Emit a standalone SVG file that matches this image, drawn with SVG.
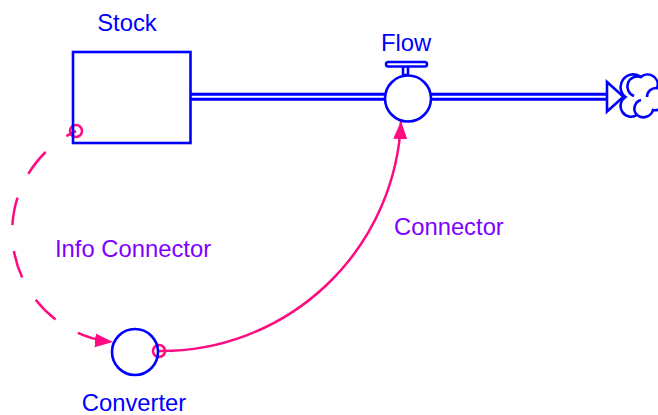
<svg xmlns="http://www.w3.org/2000/svg" width="658" height="415" viewBox="0 0 658 415">
  <style>
    .blue { fill: none; stroke: #0000ff; stroke-width: 2.6; }
    .blueW { fill: #ffffff; stroke: #0000ff; stroke-width: 2.6; }
    .pipe { fill: none; stroke: #0000ff; stroke-width: 3; }
    .link { fill: none; stroke: #ff0a80; stroke-width: 2.5; }
    .lbl { font-family: "Liberation Sans", Arial, sans-serif; font-size: 23.8px; fill: #0000ff; text-anchor: middle; }
    .clbl { font-family: "Liberation Sans", Arial, sans-serif; font-size: 23.8px; fill: #8000ff; }
  </style>
  <defs>
    <marker id="head" markerUnits="userSpaceOnUse" markerWidth="20" markerHeight="16" refX="18" refY="7" orient="auto">
      <path d="M0,0 L18,7 L0,14 z" fill="#ff0a80"/>
    </marker>
  </defs>
  <rect width="658" height="415" fill="#ffffff"/>

  <g id="connectors">
    <!-- material flow pipe: stock to valve, valve to sink -->
    <path class="pipe" d="M191,94.2 H385 M191,99.2 H385"/>
    <path class="pipe" d="M431,94.2 H608 M431,99.2 H608"/>
    <polygon class="blueW" points="607,82 607,111.5 623.5,96.7"/>
    <!-- info connector (dashed) from stock to converter -->
    <path class="link" d="M76,131 A111,111 0 0 0 113,342" stroke-dasharray="28 26" stroke-dashoffset="17" marker-end="url(#head)"/>
    <circle class="link" cx="76" cy="131" r="6"/>
    <!-- connector from converter to flow valve -->
    <path class="link" d="M159,351 A240,240 0 0 0 401,121" marker-end="url(#head)"/>
    <circle class="link" cx="159" cy="351" r="6"/>
  </g>

  <g id="stock">
    <rect class="blue" x="73" y="52" width="117.5" height="91"/>
    <text class="lbl" x="127" y="31">Stock</text>
  </g>

  <g id="flow">
    <rect class="blueW" x="403" y="66" width="5" height="9"/>
    <rect class="blueW" x="386" y="62" width="41" height="4.5" rx="2.2"/>
    <circle class="blueW" cx="408" cy="98.5" r="23"/>
    <text class="lbl" x="406" y="51">Flow</text>
  </g>

  <g id="sink">
    <path class="blueW" d="M625.5,97 A11,11 0 0 1 641,77 A10,10 0 0 1 657,88 A10,10 0 0 1 653,110 A10,10 0 0 1 637,115 A10,10 0 0 1 625.5,97 Z"/>
    <path class="blue" d="M641,77 A10,10 0 0 0 634,96 M637,115 A9,9 0 0 1 641,100 M657,88 A9,9 0 0 0 647,97"/>
  </g>

  <g id="converter">
    <circle class="blue" cx="135" cy="352" r="23"/>
    <text class="lbl" x="134" y="411">Converter</text>
  </g>

  <g id="labels">
    <text class="clbl" x="55" y="257">Info Connector</text>
    <text class="clbl" x="394" y="235">Connector</text>
  </g>
</svg>
